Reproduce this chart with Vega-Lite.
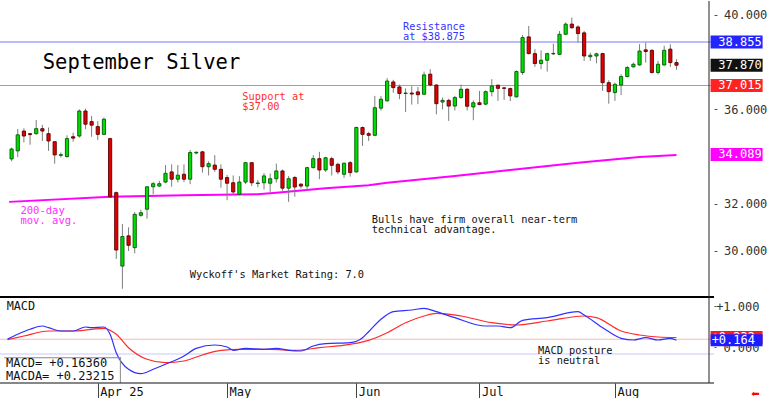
{
  "$schema": "https://vega.github.io/schema/vega-lite/v6.json",
  "padding": 0,
  "background": "white",
  "width": 714,
  "height": 382,
  "config": {"view": {"stroke": null}, "axis": {"grid": false}},
  "resolve": {"scale": {"y": "independent"}, "axis": {"y": "independent"}},
  "datasets": {
    "candles": [
      {"i":2,"o":33.90,"h":34.38,"l":33.80,"c":34.32},
      {"i":3,"o":34.24,"h":35.17,"l":33.98,"c":34.92},
      {"i":4,"o":35.08,"h":35.20,"l":34.60,"c":34.87},
      {"i":5,"o":34.97,"h":35.00,"l":34.50,"c":34.93},
      {"i":6,"o":34.97,"h":35.55,"l":34.92,"c":35.18},
      {"i":7,"o":35.18,"h":35.34,"l":34.66,"c":35.08},
      {"i":8,"o":34.97,"h":35.23,"l":34.24,"c":34.66},
      {"i":9,"o":34.63,"h":34.63,"l":33.70,"c":34.07},
      {"i":10,"o":34.05,"h":34.17,"l":33.96,"c":34.08},
      {"i":11,"o":34.00,"h":34.90,"l":33.95,"c":34.76},
      {"i":12,"o":34.84,"h":35.01,"l":34.63,"c":34.78},
      {"i":13,"o":34.87,"h":36.00,"l":34.80,"c":35.93},
      {"i":14,"o":35.93,"h":36.03,"l":35.16,"c":35.37},
      {"i":15,"o":35.48,"h":35.72,"l":34.84,"c":35.33},
      {"i":16,"o":35.27,"h":35.50,"l":34.70,"c":34.94},
      {"i":17,"o":34.94,"h":35.65,"l":34.92,"c":35.58},
      {"i":18,"o":34.76,"h":34.80,"l":32.25,"c":32.29},
      {"i":19,"o":32.47,"h":32.52,"l":29.66,"c":30.04},
      {"i":20,"o":29.36,"h":31.14,"l":28.40,"c":30.61},
      {"i":21,"o":30.64,"h":31.00,"l":30.00,"c":30.24},
      {"i":22,"o":30.14,"h":31.65,"l":29.90,"c":31.55},
      {"i":23,"o":31.51,"h":31.75,"l":31.45,"c":31.62},
      {"i":24,"o":31.77,"h":32.72,"l":31.37,"c":32.72},
      {"i":25,"o":32.72,"h":32.92,"l":32.40,"c":32.85},
      {"i":26,"o":32.75,"h":32.97,"l":32.72,"c":32.85},
      {"i":27,"o":32.92,"h":33.64,"l":32.87,"c":33.29},
      {"i":28,"o":33.35,"h":33.67,"l":32.72,"c":33.04},
      {"i":29,"o":33.04,"h":33.64,"l":32.90,"c":33.21},
      {"i":30,"o":33.25,"h":33.67,"l":32.92,"c":33.04},
      {"i":31,"o":33.04,"h":34.28,"l":32.83,"c":34.17},
      {"i":32,"o":34.15,"h":34.22,"l":34.10,"c":34.18},
      {"i":33,"o":34.20,"h":34.24,"l":33.32,"c":33.57},
      {"i":34,"o":33.57,"h":33.80,"l":33.20,"c":33.70},
      {"i":35,"o":33.64,"h":34.06,"l":33.35,"c":33.46},
      {"i":36,"o":33.46,"h":33.67,"l":32.68,"c":33.04},
      {"i":37,"o":33.11,"h":33.22,"l":32.15,"c":32.87},
      {"i":38,"o":32.89,"h":33.20,"l":32.40,"c":32.50},
      {"i":39,"o":32.40,"h":33.17,"l":32.37,"c":32.92},
      {"i":40,"o":32.92,"h":33.77,"l":32.83,"c":33.74},
      {"i":41,"o":33.74,"h":33.77,"l":32.75,"c":32.89},
      {"i":42,"o":32.86,"h":33.01,"l":32.70,"c":32.88},
      {"i":43,"o":32.89,"h":33.30,"l":32.60,"c":33.18},
      {"i":44,"o":32.87,"h":33.28,"l":32.50,"c":33.06},
      {"i":45,"o":33.06,"h":33.70,"l":32.90,"c":33.39},
      {"i":46,"o":33.39,"h":33.45,"l":32.55,"c":32.66},
      {"i":47,"o":32.66,"h":33.18,"l":32.08,"c":33.06},
      {"i":48,"o":33.11,"h":33.18,"l":32.30,"c":32.71},
      {"i":49,"o":32.83,"h":32.87,"l":32.65,"c":32.75},
      {"i":50,"o":32.75,"h":33.57,"l":32.55,"c":33.53},
      {"i":51,"o":33.53,"h":34.06,"l":33.50,"c":33.91},
      {"i":52,"o":33.91,"h":34.20,"l":33.04,"c":33.43},
      {"i":53,"o":33.43,"h":33.99,"l":33.35,"c":33.95},
      {"i":54,"o":33.91,"h":33.99,"l":33.20,"c":33.63},
      {"i":55,"o":33.67,"h":33.74,"l":33.25,"c":33.35},
      {"i":56,"o":33.25,"h":33.74,"l":33.10,"c":33.72},
      {"i":57,"o":33.74,"h":33.81,"l":33.15,"c":33.32},
      {"i":58,"o":33.35,"h":35.27,"l":33.32,"c":35.23},
      {"i":59,"o":35.23,"h":35.27,"l":34.45,"c":34.94},
      {"i":60,"o":34.97,"h":35.05,"l":34.66,"c":34.90},
      {"i":61,"o":34.90,"h":36.57,"l":34.87,"c":36.07},
      {"i":62,"o":36.05,"h":36.57,"l":35.95,"c":36.43},
      {"i":63,"o":36.36,"h":37.32,"l":36.33,"c":37.20},
      {"i":64,"o":37.16,"h":37.25,"l":36.70,"c":36.92},
      {"i":65,"o":36.95,"h":37.05,"l":36.43,"c":36.67},
      {"i":66,"o":36.67,"h":36.89,"l":35.89,"c":36.69},
      {"i":67,"o":36.69,"h":36.98,"l":36.20,"c":36.65},
      {"i":68,"o":36.74,"h":36.95,"l":36.22,"c":36.62},
      {"i":69,"o":36.64,"h":37.60,"l":36.62,"c":37.46},
      {"i":70,"o":37.49,"h":37.70,"l":36.98,"c":37.03},
      {"i":71,"o":37.03,"h":37.06,"l":35.79,"c":36.24},
      {"i":72,"o":36.31,"h":36.50,"l":36.00,"c":36.38},
      {"i":73,"o":36.38,"h":36.45,"l":35.51,"c":36.14},
      {"i":74,"o":36.14,"h":36.57,"l":35.95,"c":36.50},
      {"i":75,"o":36.50,"h":37.05,"l":36.45,"c":36.85},
      {"i":76,"o":36.85,"h":36.90,"l":35.95,"c":36.13},
      {"i":77,"o":36.10,"h":36.38,"l":35.54,"c":36.28},
      {"i":78,"o":36.28,"h":36.78,"l":36.18,"c":36.20},
      {"i":79,"o":36.22,"h":36.80,"l":36.18,"c":36.75},
      {"i":80,"o":36.75,"h":37.28,"l":36.55,"c":36.99},
      {"i":81,"o":37.02,"h":37.06,"l":36.36,"c":36.89},
      {"i":82,"o":36.91,"h":36.95,"l":36.40,"c":36.89},
      {"i":83,"o":36.88,"h":36.92,"l":36.35,"c":36.57},
      {"i":84,"o":36.53,"h":37.65,"l":36.50,"c":37.60},
      {"i":85,"o":37.56,"h":39.15,"l":37.46,"c":39.04},
      {"i":86,"o":39.07,"h":39.53,"l":38.33,"c":38.36},
      {"i":87,"o":38.36,"h":38.55,"l":37.80,"c":37.94},
      {"i":88,"o":37.94,"h":38.50,"l":37.70,"c":38.08},
      {"i":89,"o":38.08,"h":38.40,"l":37.60,"c":38.36},
      {"i":90,"o":38.35,"h":38.78,"l":38.30,"c":38.37},
      {"i":91,"o":38.33,"h":39.32,"l":38.30,"c":39.18},
      {"i":92,"o":39.18,"h":39.68,"l":39.15,"c":39.61},
      {"i":93,"o":39.61,"h":39.89,"l":39.40,"c":39.46},
      {"i":94,"o":39.49,"h":39.56,"l":38.83,"c":39.21},
      {"i":95,"o":39.24,"h":39.32,"l":38.05,"c":38.26},
      {"i":96,"o":38.23,"h":38.40,"l":38.05,"c":38.29},
      {"i":97,"o":38.26,"h":38.40,"l":37.95,"c":38.35},
      {"i":98,"o":38.36,"h":38.40,"l":36.78,"c":37.13},
      {"i":99,"o":37.13,"h":37.23,"l":36.24,"c":36.75},
      {"i":100,"o":36.71,"h":37.13,"l":36.36,"c":37.06},
      {"i":101,"o":37.03,"h":37.49,"l":36.60,"c":37.39},
      {"i":102,"o":37.39,"h":37.84,"l":37.35,"c":37.77},
      {"i":103,"o":37.80,"h":37.98,"l":37.77,"c":37.91},
      {"i":104,"o":37.88,"h":38.76,"l":37.85,"c":38.47},
      {"i":105,"o":38.52,"h":38.83,"l":37.98,"c":38.45},
      {"i":106,"o":38.50,"h":38.55,"l":37.52,"c":37.56},
      {"i":107,"o":37.56,"h":38.05,"l":37.48,"c":37.91},
      {"i":108,"o":37.88,"h":38.70,"l":37.85,"c":38.50},
      {"i":109,"o":38.55,"h":38.76,"l":37.80,"c":37.98},
      {"i":110,"o":37.98,"h":38.12,"l":37.68,"c":37.87}
    ],
    "ma": [
      {"i":1.6,"v":32.08},{"i":18,"v":32.30},{"i":30,"v":32.36},{"i":42,"v":32.40},
      {"i":45,"v":32.47},{"i":53,"v":32.66},{"i":60,"v":32.78},{"i":63,"v":32.89},
      {"i":74,"v":33.18},{"i":83,"v":33.43},{"i":94,"v":33.74},{"i":104,"v":33.98},
      {"i":110,"v":34.07}
    ],
    "macd": [
      {"i":1.35,"v":0.193},{"i":3,"v":0.31},{"i":5,"v":0.432},{"i":7,"v":0.512},{"i":8,"v":0.471},
      {"i":10,"v":0.39},{"i":12,"v":0.39},{"i":14,"v":0.488},{"i":15,"v":0.471},{"i":17,"v":0.488},
      {"i":18,"v":0.31},{"i":19,"v":-0.139},{"i":21,"v":-0.544},{"i":23,"v":-0.651},{"i":25,"v":-0.544},
      {"i":27,"v":-0.422},{"i":30,"v":-0.22},{"i":32,"v":-0.032},{"i":35,"v":0.049},{"i":37,"v":0.0},
      {"i":38,"v":-0.08},{"i":40,"v":-0.032},{"i":43,"v":-0.056},{"i":45,"v":-0.032},{"i":47,"v":-0.08},
      {"i":49,"v":-0.098},{"i":51,"v":0.024},{"i":53,"v":0.08},{"i":57,"v":0.105},{"i":59,"v":0.227},
      {"i":60,"v":0.373},{"i":62,"v":0.676},{"i":64,"v":0.861},{"i":67,"v":0.902},{"i":69,"v":0.944},
      {"i":71,"v":0.861},{"i":74,"v":0.715},{"i":79,"v":0.512},{"i":81,"v":0.512},{"i":83,"v":0.471},
      {"i":85,"v":0.651},{"i":89,"v":0.715},{"i":94,"v":0.861},{"i":95,"v":0.78},{"i":98,"v":0.471},
      {"i":101,"v":0.212},{"i":103,"v":0.171},{"i":105,"v":0.227},{"i":107,"v":0.171},{"i":109,"v":0.212},
      {"i":110,"v":0.164}
    ],
    "macda": [
      {"i":1.35,"v":0.178},{"i":4,"v":0.268},{"i":8,"v":0.39},{"i":12,"v":0.39},{"i":15,"v":0.432},
      {"i":17,"v":0.456},{"i":19,"v":0.31},{"i":21,"v":-0.017},{"i":24,"v":-0.3},{"i":27,"v":-0.383},
      {"i":30,"v":-0.341},{"i":33,"v":-0.195},{"i":36,"v":-0.08},{"i":39,"v":-0.056},{"i":44,"v":-0.056},
      {"i":48,"v":-0.08},{"i":52,"v":-0.017},{"i":57,"v":0.066},{"i":60,"v":0.163},{"i":63,"v":0.349},
      {"i":66,"v":0.593},{"i":69,"v":0.756},{"i":71,"v":0.822},{"i":75,"v":0.756},{"i":80,"v":0.593},
      {"i":84,"v":0.537},{"i":89,"v":0.634},{"i":95,"v":0.756},{"i":97,"v":0.715},{"i":101,"v":0.39},
      {"i":104,"v":0.293},{"i":107,"v":0.244},{"i":110,"v":0.232}
    ],
    "tags": [
      {"k":"res","v":38.855,"t":"38.855"},
      {"k":"last","v":37.87,"t":"37.870"},
      {"k":"sup","v":37.015,"t":"37.015"},
      {"k":"ma","v":34.089,"t":"34.089"}
    ],
    "mtags": [
      {"k":"a","v":0.232,"t":"+0.232"},
      {"k":"m","v":0.164,"t":"+0.164"}
    ],
    "mrefs": [
      {"k":"a","v":0.19},
      {"k":"m","v":-0.17}
    ]
  },
  "layer": [
    {
      "layer": [
        {
          "data": {"name": "tags"},
          "transform": [{"filter": "datum.k == 'res' || datum.k == 'sup'"}],
          "mark": {"type": "tick", "orient": "horizontal", "size": 714, "thickness": 1},
          "encoding": {
            "x": {"datum": 58.105, "type": "quantitative", "title": null,
                  "scale": {"domain": [0.93, 115.28], "nice": false, "zero": false}},
            "y": {"field": "v", "type": "quantitative", "title": null,
                  "scale": {"domain": [24.4067, 40.59], "nice": false, "zero": false},
                  "axis": {"orient": "right", "title": null, "grid": false, "domain": false,
                           "values": [30, 32, 36, 40], "format": ".3f",
                           "tickSize": 3, "labelPadding": 6.5, "labelAlign": "left", "labelBaseline": "middle",
                           "labelFont": "DejaVu Sans Mono", "labelFontSize": 12, "labelColor": "#333333",
                           "tickColor": "#555555",
                           "labelOverlap": false, "labelBound": false, "labelFlush": false}},
            "color": {"condition": {"test": "datum.k == 'res'", "value": "#7878ff"}, "value": "#ff7878"},
            "opacity": {"value": 1}
          }
        },
        {
          "data": {"values": [{}]},
          "mark": {"type": "tick", "orient": "horizontal", "size": 714, "thickness": 2, "color": "#000000", "opacity": 1},
          "encoding": {
            "x": {"datum": 58.105, "type": "quantitative", "title": null},
            "y": {"datum": 28.05, "type": "quantitative", "title": null}
          }
        },
        {
          "data": {"name": "ma"},
          "mark": {"type": "line", "color": "#ff00ff", "strokeWidth": 2, "strokeJoin": "round", "clip": true},
          "encoding": {
            "x": {"field": "i", "type": "quantitative", "title": null},
            "y": {"field": "v", "type": "quantitative", "title": null}
          }
        },
        {
          "data": {"name": "candles"},
          "mark": {"type": "rule", "color": "#7d7d7d", "strokeWidth": 1, "clip": true},
          "encoding": {
            "x": {"field": "i", "type": "quantitative", "title": null},
            "y": {"field": "l", "type": "quantitative", "title": null},
            "y2": {"field": "h"}
          }
        },
        {
          "data": {"name": "candles"},
          "mark": {"type": "bar", "size": 3.2, "strokeWidth": 0.9, "clip": true},
          "encoding": {
            "x": {"field": "i", "type": "quantitative", "title": null},
            "y": {"field": "o", "type": "quantitative", "title": null},
            "y2": {"field": "c"},
            "fill": {"condition": {"test": "datum.c >= datum.o", "value": "#00dd00"}, "value": "#e00000"},
            "stroke": {"condition": {"test": "datum.c >= datum.o", "value": "#005a00"}, "value": "#5a0000"}
          }
        },
        {
          "data": {"values": [{"t": "September Silver"}]},
          "mark": {"type": "text", "align": "left", "baseline": "alphabetic", "font": "DejaVu Sans Mono", "fontSize": 20.5, "color": "#000000"},
          "encoding": {"x": {"datum": 7.063}, "y": {"datum": 37.699}, "text": {"field": "t"}}
        },
        {
          "data": {"values": [{"t": ["Resistance", "at $38.875"]}]},
          "mark": {"type": "text", "align": "left", "baseline": "alphabetic", "font": "DejaVu Sans Mono", "fontSize": 10.3, "lineHeight": 9.7, "color": "#3535ff"},
          "encoding": {"x": {"datum": 65.58}, "y": {"datum": 39.352}, "text": {"field": "t"}}
        },
        {
          "data": {"values": [{"t": ["Support at", "$37.00"]}]},
          "mark": {"type": "text", "align": "left", "baseline": "alphabetic", "font": "DejaVu Sans Mono", "fontSize": 10.3, "lineHeight": 9.7, "color": "#ff3030"},
          "encoding": {"x": {"datum": 39.48}, "y": {"datum": 36.398}, "text": {"field": "t"}}
        },
        {
          "data": {"values": [{"t": ["200-day", "mov. avg."]}]},
          "mark": {"type": "text", "align": "left", "baseline": "alphabetic", "font": "DejaVu Sans Mono", "fontSize": 10.5, "lineHeight": 10, "color": "#ff30ff"},
          "encoding": {"x": {"datum": 3.444}, "y": {"datum": 31.581}, "text": {"field": "t"}}
        },
        {
          "data": {"values": [{"t": ["Bulls have firm overall near-term", "technical advantage."]}]},
          "mark": {"type": "text", "align": "left", "baseline": "alphabetic", "font": "DejaVu Sans Mono", "fontSize": 10.35, "lineHeight": 10, "color": "#111111"},
          "encoding": {"x": {"datum": 60.51}, "y": {"datum": 31.174}, "text": {"field": "t"}}
        },
        {
          "data": {"values": [{"t": "Wyckoff's Market Rating: 7.0"}]},
          "mark": {"type": "text", "align": "left", "baseline": "alphabetic", "font": "DejaVu Sans Mono", "fontSize": 10.35, "color": "#111111"},
          "encoding": {"x": {"datum": 30.93}, "y": {"datum": 28.843}, "text": {"field": "t"}}
        },
        {
          "data": {"name": "tags"},
          "mark": {"type": "tick", "orient": "horizontal", "size": 52, "thickness": 13},
          "encoding": {
            "x": {"datum": 119.76},
            "y": {"field": "v", "type": "quantitative", "title": null},
            "color": {"condition": [
              {"test": "datum.k == 'res'", "value": "#2424ff"},
              {"test": "datum.k == 'last'", "value": "#111111"},
              {"test": "datum.k == 'sup'", "value": "#ff2222"}
            ], "value": "#ff00ff"},
            "opacity": {"value": 1}
          }
        },
        {
          "data": {"name": "tags"},
          "mark": {"type": "text", "align": "left", "baseline": "middle", "font": "DejaVu Sans Mono", "fontSize": 12, "color": "#ffffff"},
          "encoding": {
            "x": {"datum": 116.8},
            "y": {"field": "v", "type": "quantitative", "title": null},
            "text": {"field": "t"}
          }
        }
      ]
    },
    {
      "layer": [
        {
          "data": {"name": "mrefs"},
          "mark": {"type": "tick", "orient": "horizontal", "size": 714, "thickness": 1},
          "encoding": {
            "x": {"datum": 58.105, "type": "quantitative", "title": null},
            "y": {"field": "v", "type": "quantitative", "title": null,
                  "scale": {"domain": [-0.878, 8.439], "nice": false, "zero": false},
                  "axis": {"orient": "right", "title": null, "grid": false, "domain": false,
                           "values": [0, 1],
                           "labelExpr": "datum.value == 1 ? '+1.000' : '0.000'",
                           "tickSize": 2, "labelPadding": 43, "labelAlign": "right", "labelBaseline": "middle",
                           "labelFont": "DejaVu Sans Mono", "labelFontSize": 12, "labelColor": "#333333",
                           "tickColor": "#555555",
                           "labelOverlap": false, "labelBound": false, "labelFlush": false}},
            "color": {"condition": {"test": "datum.k == 'a'", "value": "#ffb4b4"}, "value": "#c8c8ff"},
            "opacity": {"value": 1}
          }
        },
        {
          "data": {"values": [{}]},
          "mark": {"type": "rect", "fill": "#ffffff"},
          "encoding": {
            "x": {"datum": 0.93, "type": "quantitative", "title": null}, "x2": {"datum": 19.668},
            "y": {"datum": -0.878, "type": "quantitative", "title": null}, "y2": {"datum": -0.261}
          }
        },
        {
          "data": {"name": "macda"},
          "mark": {"type": "line", "color": "#ff2a2a", "strokeWidth": 1.2, "strokeJoin": "round", "interpolate": "monotone", "clip": true},
          "encoding": {
            "x": {"field": "i", "type": "quantitative", "title": null,
                  "scale": {"domain": [0.93, 115.28], "nice": false, "zero": false},
                  "axis": {"orient": "bottom", "title": null, "grid": false, "domain": false,
                           "values": [16, 37, 58, 78, 100],
                           "labelExpr": "datum.value == 16 ? 'Apr 25' : (datum.value == 37 ? 'May' : (datum.value == 58 ? 'Jun' : (datum.value == 78 ? 'Jul' : 'Aug')))",
                           "tickSize": 16, "tickColor": "#444444",
                           "labelAlign": "left", "labelBaseline": "middle", "labelPadding": -8, "labelOffset": 2,
                           "labelFont": "DejaVu Sans Mono", "labelFontSize": 12, "labelColor": "#111111",
                           "labelOverlap": false, "labelFlush": false, "labelBound": false}},
            "y": {"field": "v", "type": "quantitative", "title": null}
          }
        },
        {
          "data": {"name": "macd"},
          "mark": {"type": "line", "color": "#3030ff", "strokeWidth": 1.2, "strokeJoin": "round", "interpolate": "monotone", "clip": true},
          "encoding": {
            "x": {"field": "i", "type": "quantitative", "title": null},
            "y": {"field": "v", "type": "quantitative", "title": null}
          }
        },
        {
          "data": {"values": [{}]},
          "mark": {"type": "tick", "orient": "horizontal", "size": 117, "thickness": 1, "color": "#888888", "opacity": 1},
          "encoding": {
            "x": {"datum": 10.299, "type": "quantitative", "title": null},
            "y": {"datum": -0.261, "type": "quantitative", "title": null}
          }
        },
        {
          "data": {"values": [{}]},
          "mark": {"type": "rule", "color": "#888888", "strokeWidth": 1},
          "encoding": {
            "x": {"datum": 19.668, "type": "quantitative", "title": null},
            "y": {"datum": -0.261, "type": "quantitative", "title": null},
            "y2": {"datum": -0.878}
          }
        },
        {
          "data": {"values": [{}]},
          "mark": {"type": "tick", "orient": "horizontal", "size": 714, "thickness": 1, "color": "#111111", "opacity": 1},
          "encoding": {
            "x": {"datum": 58.105, "type": "quantitative", "title": null},
            "y": {"datum": -0.878, "type": "quantitative", "title": null}
          }
        },
        {
          "data": {"values": [{}]},
          "mark": {"type": "rule", "color": "#222222", "strokeWidth": 1},
          "encoding": {
            "x": {"datum": 115.28, "type": "quantitative", "title": null},
            "y": {"datum": 8.439, "type": "quantitative", "title": null},
            "y2": {"datum": -0.878}
          }
        },
        {
          "data": {"values": [{"t": "MACD"}]},
          "mark": {"type": "text", "align": "left", "baseline": "alphabetic", "font": "DejaVu Sans Mono", "fontSize": 11.8, "color": "#111111"},
          "encoding": {"x": {"datum": 1.2}, "y": {"datum": 0.902}, "text": {"field": "t"}}
        },
        {
          "data": {"values": [{"t": ["MACD=  +0.16360", "MACDA= +0.23215"]}]},
          "mark": {"type": "text", "align": "left", "baseline": "alphabetic", "font": "DejaVu Sans Mono", "fontSize": 12, "lineHeight": 13.3, "color": "#111111"},
          "encoding": {"x": {"datum": 1.09}, "y": {"datum": -0.488}, "text": {"field": "t"}}
        },
        {
          "data": {"values": [{"t": ["MACD posture", "is neutral"]}]},
          "mark": {"type": "text", "align": "left", "baseline": "alphabetic", "font": "DejaVu Sans Mono", "fontSize": 10.3, "lineHeight": 10, "color": "#111111"},
          "encoding": {"x": {"datum": 87.52}, "y": {"datum": -0.163}, "text": {"field": "t"}}
        },
        {
          "data": {"name": "mtags"},
          "transform": [{"filter": "datum.k == 'a'"}],
          "mark": {"type": "tick", "orient": "horizontal", "size": 52, "thickness": 13, "color": "#ff1a1a", "opacity": 1},
          "encoding": {"x": {"datum": 119.76}, "y": {"field": "v", "type": "quantitative", "title": null}}
        },
        {
          "data": {"name": "mtags"},
          "transform": [{"filter": "datum.k == 'a'"}],
          "mark": {"type": "text", "align": "left", "baseline": "middle", "font": "DejaVu Sans Mono", "fontSize": 12, "color": "#ffffff"},
          "encoding": {"x": {"datum": 115.71}, "y": {"field": "v", "type": "quantitative", "title": null}, "text": {"field": "t"}}
        },
        {
          "data": {"name": "mtags"},
          "transform": [{"filter": "datum.k == 'm'"}],
          "mark": {"type": "tick", "orient": "horizontal", "size": 52, "thickness": 12, "color": "#1c1cff", "opacity": 1},
          "encoding": {"x": {"datum": 119.76}, "y": {"field": "v", "type": "quantitative", "title": null}}
        },
        {
          "data": {"name": "mtags"},
          "transform": [{"filter": "datum.k == 'm'"}],
          "mark": {"type": "text", "align": "left", "baseline": "middle", "font": "DejaVu Sans Mono", "fontSize": 12, "color": "#ffffff"},
          "encoding": {"x": {"datum": 115.71}, "y": {"field": "v", "type": "quantitative", "title": null}, "text": {"field": "t"}}
        },
        {
          "data": {"values": [{"t": "⬅"}]},
          "mark": {"type": "text", "align": "center", "baseline": "bottom", "font": "DejaVu Sans", "fontSize": 10, "color": "#ff0000"},
          "encoding": {"x": {"datum": 122.81}, "y": {"datum": -1.268}, "text": {"field": "t"}}
        }
      ]
    }
  ]
}
